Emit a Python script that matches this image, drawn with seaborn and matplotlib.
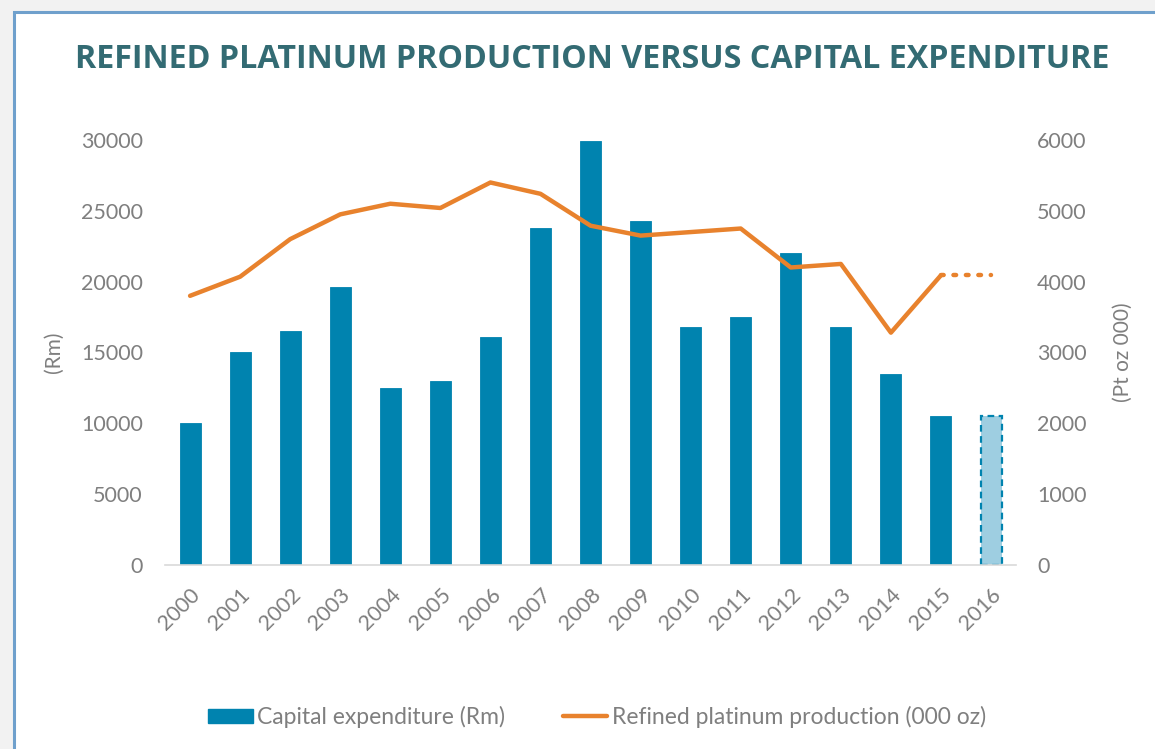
import numpy as np
import pandas as pd
import seaborn as sns
import matplotlib.pyplot as plt
from matplotlib.patches import Rectangle, Patch
from matplotlib.lines import Line2D

# values
years = [str(y) for y in range(2000, 2017)]
capex_rm = [10000, 15000, 16500, 19600, 12500, 13000, 16100, 23800, 29900,
            24300, 16800, 17500, 22000, 16800, 13500, 10500, 10500]
platinum_koz = [3800, 4070, 4600, 4950, 5100, 5040, 5400, 5240, 4790,
                4650, 4700, 4750, 4200, 4250, 3280, 4090, 4090]

bar_blue = '#0083AF'
bar_light = '#9ECEE1'
orange = '#E8822D'
grey_txt = '#7F7F7F'
teal = '#336B73'

df = pd.DataFrame({'year': years, 'capex': capex_rm, 'pt': platinum_koz})
df['pos'] = np.arange(len(df))

sns.set_style('white')
plt.rcParams['font.family'] = ['Lato', 'DejaVu Sans']

fig = plt.figure(figsize=(11.55, 7.49), dpi=100)
ax = fig.add_axes([0.1429, 0.2457, 0.7368, 0.5674])

sns.barplot(data=df, x='year', y='capex', color=bar_blue, width=0.42,
            saturation=1, ax=ax, edgecolor=bar_blue, linewidth=0.6)
# 2016 is a forecast: light fill, dashed outline
last = ax.patches[-1]
last.set_facecolor(bar_light)
last.set_edgecolor(bar_blue)
last.set_linestyle((0, (3, 2)))
last.set_linewidth(1.6)

ax.set_xlim(-0.5, len(years) - 0.5)
ax.set_ylim(0, 30000)
ax.set_yticks(range(0, 30001, 5000))
ax.set_xlabel('')
ax.set_ylabel('(Rm)', color=grey_txt, fontsize=15, labelpad=12)
ax.tick_params(axis='y', colors=grey_txt, labelsize=15.5, length=0, pad=16)
ax.tick_params(axis='x', colors=grey_txt, labelsize=15.5, length=0, pad=14)
for lbl in ax.get_xticklabels():
    lbl.set_rotation(45)
    lbl.set_ha('right')
    lbl.set_rotation_mode('anchor')
for s in ['top', 'right', 'left']:
    ax.spines[s].set_visible(False)
ax.spines['bottom'].set_color('#D9D9D9')
ax.spines['bottom'].set_linewidth(1.2)

ax2 = ax.twinx()
solid = df.iloc[:-1]
dotted = df.iloc[-2:]
sns.lineplot(data=solid, x='pos', y='pt', color=orange, linewidth=3.2, ax=ax2)
sns.lineplot(data=dotted, x='pos', y='pt', color=orange, linewidth=3.2,
             linestyle=(0, (0.6, 2.2)), dash_capstyle='round', ax=ax2)
ax2.set_ylim(0, 6000)
ax2.set_yticks(range(0, 6001, 1000))
ax2.set_xlim(-0.5, len(years) - 0.5)
ax2.set_ylabel('(Pt oz 000)', color=grey_txt, fontsize=15, labelpad=19)
ax2.tick_params(axis='y', colors=grey_txt, labelsize=15.5, length=0, pad=15)
for s in ax2.spines.values():
    s.set_visible(False)

fig.text(0.513, 0.920, 'REFINED PLATINUM PRODUCTION VERSUS CAPITAL EXPENDITURE',
         ha='center', va='center', fontsize=23.2, fontweight='bold', color=teal,
         family=['Open Sans', 'DejaVu Sans'])

handles = [Patch(facecolor=bar_blue, edgecolor=bar_blue),
           Line2D([], [], color=orange, linewidth=3.2)]
labels = ['Capital expenditure (Rm)', 'Refined platinum production (000 oz)']
leg = fig.legend(handles, labels, loc='center', bbox_to_anchor=(0.517, 0.043),
                 ncol=2, frameon=False, fontsize=16.5, handlelength=1.95,
                 handleheight=0.55, handletextpad=0.2, columnspacing=2.5)
for t in leg.get_texts():
    t.set_color(grey_txt)

# window frame around the chart
fig.patches.append(Rectangle((0, 0), 1, 1, transform=fig.transFigure,
                             facecolor='#F2F2F2', edgecolor='none', zorder=-3))
fig.patches.append(Rectangle((14 / 1155, -0.01), 1.0, 1 - 12 / 749 + 0.01,
                             transform=fig.transFigure, facecolor='white',
                             edgecolor='#6FA0CC', linewidth=2.2, zorder=-2))

fig.savefig('out.png', dpi=100)
